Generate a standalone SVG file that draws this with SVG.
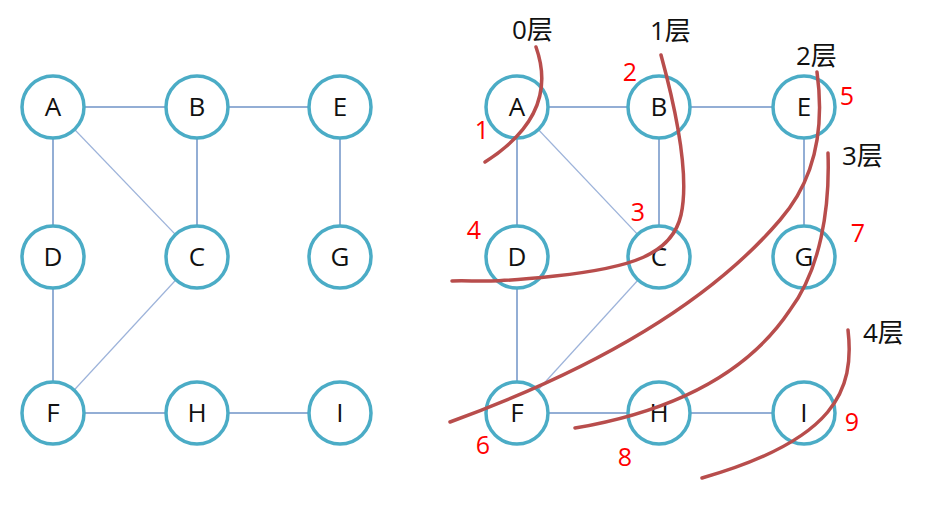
<svg xmlns="http://www.w3.org/2000/svg" width="942" height="505" viewBox="0 0 942 505">
<style>
.edge{stroke:#6f93c7;stroke-width:1.5;fill:none}
.diag{stroke:#9db3da;stroke-width:1.2;fill:none}
.node circle{fill:#fff;stroke:#4bacc6;stroke-width:3.5}
.node text{font-family:"Open Sans","Noto Sans",sans-serif;font-size:26px;fill:#111;text-anchor:middle}
.cut{stroke:#b84d4c;stroke-width:3.5;fill:none;stroke-linecap:round}
.num{font-family:"Open Sans","Noto Sans",sans-serif;font-size:25px;fill:#ff0000;text-anchor:middle}
.layer{font-family:"Open Sans","Noto Sans CJK SC",sans-serif;font-size:26px;fill:#111}
</style>
<rect width="942" height="505" fill="#fff"/>
<g id="connectors">
<line class="edge" x1="53" y1="107" x2="197" y2="107"/>
<line class="edge" x1="197" y1="107" x2="340" y2="107"/>
<line class="edge" x1="53" y1="107" x2="53" y2="257"/>
<line class="diag" x1="53" y1="107" x2="197" y2="257"/>
<line class="edge" x1="197" y1="107" x2="197" y2="257"/>
<line class="edge" x1="340" y1="107" x2="340" y2="257"/>
<line class="edge" x1="53" y1="257" x2="53" y2="413"/>
<line class="diag" x1="197" y1="257" x2="53" y2="413"/>
<line class="edge" x1="53" y1="413" x2="197" y2="413"/>
<line class="edge" x1="197" y1="413" x2="340" y2="413"/>
<line class="edge" x1="517" y1="107" x2="659" y2="107"/>
<line class="edge" x1="659" y1="107" x2="804" y2="107"/>
<line class="edge" x1="517" y1="107" x2="517" y2="257"/>
<line class="diag" x1="517" y1="107" x2="659" y2="257"/>
<line class="edge" x1="659" y1="107" x2="659" y2="257"/>
<line class="edge" x1="804" y1="107" x2="804" y2="257"/>
<line class="edge" x1="517" y1="257" x2="517" y2="413"/>
<line class="diag" x1="659" y1="257" x2="517" y2="413"/>
<line class="edge" x1="517" y1="413" x2="659" y2="413"/>
<line class="edge" x1="659" y1="413" x2="804" y2="413"/>
</g>
<g id="L-A" class="node"><circle cx="53" cy="107" r="31"/><text x="53" y="116">A</text></g>
<g id="L-B" class="node"><circle cx="197" cy="107" r="31"/><text x="197" y="116">B</text></g>
<g id="L-E" class="node"><circle cx="340" cy="107" r="31"/><text x="340" y="116">E</text></g>
<g id="L-D" class="node"><circle cx="53" cy="257" r="31"/><text x="53" y="266">D</text></g>
<g id="L-C" class="node"><circle cx="197" cy="257" r="31"/><text x="197" y="266">C</text></g>
<g id="L-G" class="node"><circle cx="340" cy="257" r="31"/><text x="340" y="266">G</text></g>
<g id="L-F" class="node"><circle cx="53" cy="413" r="31"/><text x="53" y="422">F</text></g>
<g id="L-H" class="node"><circle cx="197" cy="413" r="31"/><text x="197" y="422">H</text></g>
<g id="L-I" class="node"><circle cx="340" cy="413" r="31"/><text x="340" y="422">I</text></g>
<g id="R-A" class="node"><circle cx="517" cy="107" r="31"/><text x="517" y="116">A</text></g>
<g id="R-B" class="node"><circle cx="659" cy="107" r="31"/><text x="659" y="116">B</text></g>
<g id="R-E" class="node"><circle cx="804" cy="107" r="31"/><text x="804" y="116">E</text></g>
<g id="R-D" class="node"><circle cx="517" cy="257" r="31"/><text x="517" y="266">D</text></g>
<g id="R-C" class="node"><circle cx="659" cy="257" r="31"/><text x="659" y="266">C</text></g>
<g id="R-G" class="node"><circle cx="804" cy="257" r="31"/><text x="804" y="266">G</text></g>
<g id="R-F" class="node"><circle cx="517" cy="413" r="31"/><text x="517" y="422">F</text></g>
<g id="R-H" class="node"><circle cx="659" cy="413" r="31"/><text x="659" y="422">H</text></g>
<g id="R-I" class="node"><circle cx="804" cy="413" r="31"/><text x="804" y="422">I</text></g>
<g id="layer-cuts">
<path class="cut" d="M536,47 C547,78 548,122 485,162"/>
<path class="cut" d="M661,55 C676,110 690,175 681,215 C672,255 630,268 555,276 S480,280 452,281"/>
<path class="cut" d="M817,72 C825,130 815,180 780,220 C720,290 620,360 450,422"/>
<path class="cut" d="M828,153 C830,210 820,270 790,310 C750,370 680,410 575,428"/>
<path class="cut" d="M848,330 C855,390 835,440 702,478"/>
</g>
<g id="order-numbers">
<text class="num" x="482" y="139">1</text>
<text class="num" x="630" y="81">2</text>
<text class="num" x="638" y="221">3</text>
<text class="num" x="474" y="239">4</text>
<text class="num" x="847" y="105">5</text>
<text class="num" x="483" y="454">6</text>
<text class="num" x="858" y="242">7</text>
<text class="num" x="625" y="466">8</text>
<text class="num" x="852" y="431">9</text>
</g>
<g id="layer-labels">
<text class="layer" x="512" y="39">0层</text>
<text class="layer" x="650" y="40">1层</text>
<text class="layer" x="796" y="65">2层</text>
<text class="layer" x="842" y="165">3层</text>
<text class="layer" x="863" y="342">4层</text>
</g>
</svg>
